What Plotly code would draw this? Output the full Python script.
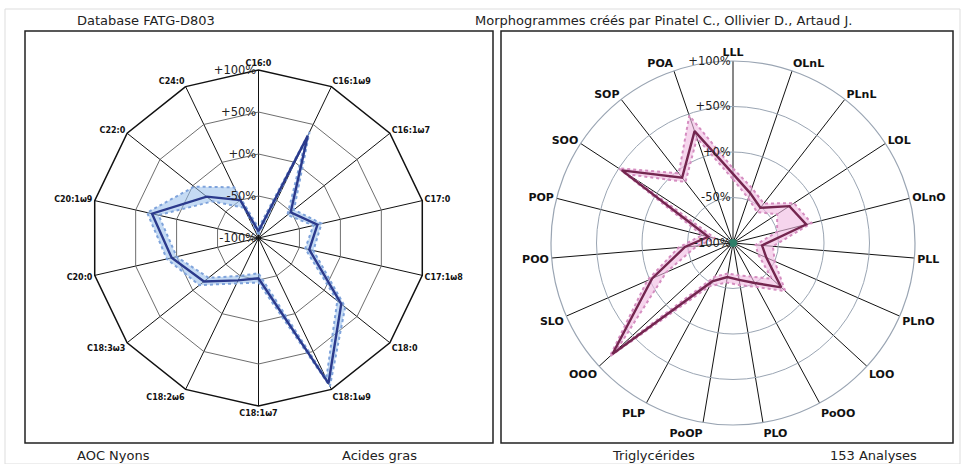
import plotly.graph_objects as go

W, H = 962, 464

# ---------------- data ----------------
fa_cats = ["C16:0", "C16:1ω9", "C16:1ω7", "C17:0", "C17:1ω8", "C18:0", "C18:1ω9",
           "C18:1ω7", "C18:2ω6", "C18:3ω3", "C20:0", "C20:1ω9", "C22:0", "C24:0"]
fa_mean = [-92, 35, -51, -28, -38, 26, 92, -52, -44, -17, 6, 30, -21, -50]
fa_upper = [-88, 40, -46, -23, -33, 32, 96, -47, -40, -10, 12, 36, -2, -33]
fa_lower = [-96, 30, -56, -33, -43, 20, 86, -58, -50, -24, 0, 22, -30, -60]

tg_cats = ["LLL", "OLnL", "PLnL", "LOL", "OLnO", "PLL", "PLnO", "LOO", "PoOO", "PLO",
           "PoOP", "PLP", "OOO", "SLO", "POO", "POP", "SOO", "SOP", "POA"]
tg_mean = [-24, -42, -51, -26, -17, -68, -60, -28, -50, -59, -62, -52, 80, -3, -47, -72, 46, -9, 30]
tg_upper = [-18, -36, -45, -20, -11, -56, -50, -22, -45, -53, -56, -46, 84, 3, -40, -65, 50, -3, 48]
tg_lower = [-30, -48, -57, -42, -50, -75, -70, -42, -58, -64, -66, -58, 74, -20, -60, -80, 38, -15, 22]

r_ticks = [-100, -50, 0, 50, 100]
r_ticktext = ["-100%", "-50%", "+0%", "+50%", "+100%"]

# ---------------- helpers ----------------
def closed(a):
    return list(a) + [a[0]]

def add_chart(fig, cats, mean, upper, lower, polar, line_col, dot_col, fill_col):
    th = closed(cats)
    fig.add_trace(go.Scatterpolar(
        r=closed(upper) + closed(lower)[::-1], theta=th + th[::-1],
        mode="lines", fill="toself", fillcolor=fill_col,
        line=dict(width=0, color=fill_col), subplot=polar, hoverinfo="skip"))
    for b in (upper, lower):
        fig.add_trace(go.Scatterpolar(
            r=closed(b), theta=th, mode="lines",
            line=dict(color=dot_col, width=2, dash="dot"),
            subplot=polar, hoverinfo="skip"))
    fig.add_trace(go.Scatterpolar(
        r=closed(mean), theta=th, mode="lines",
        line=dict(color=line_col, width=2.4),
        subplot=polar, hoverinfo="skip"))
    fig.add_trace(go.Scatterpolar(
        r=[-100], theta=[cats[0]], mode="markers",
        marker=dict(color="#2f7f68", size=8),
        subplot=polar, hoverinfo="skip"))

fig = go.Figure()
add_chart(fig, fa_cats, fa_mean, fa_upper, fa_lower, "polar",
          "#2b3a8c", "#7fa3db", "rgba(150,190,235,0.55)")
add_chart(fig, tg_cats, tg_mean, tg_upper, tg_lower, "polar2",
          "#74264f", "#d58dc0", "rgba(240,185,225,0.6)")

def px_dom(cx, cy, r):
    return dict(x=[(cx - r) / W, (cx + r) / W],
                y=[(H - cy - r) / H, (H - cy + r) / H])

radial_common = dict(range=[-100, 100], tickvals=r_ticks, ticktext=r_ticktext,
                     angle=90, tickangle=90, side="counterclockwise",
                     showline=False, ticks="",
                     tickfont=dict(family="DejaVu Sans", size=11.5, color="#222"))

fig.update_layout(
    width=W, height=H, margin=dict(l=0, r=0, t=0, b=0),
    paper_bgcolor="white", showlegend=False,
    polar=dict(
        domain=px_dom(258.5, 238, 168),
        bgcolor="white", gridshape="linear",
        radialaxis=dict(**radial_common, gridcolor="#6e6e6e", gridwidth=1),
        angularaxis=dict(categoryarray=fa_cats, rotation=90, direction="clockwise",
                         gridcolor="#111", gridwidth=1.3, linecolor="#111", linewidth=1.5,
                         ticks="",
                         tickfont=dict(family="DejaVu Sans", size=8, color="#111", weight="bold")),
    ),
    polar2=dict(
        domain=px_dom(733, 243, 182),
        bgcolor="white", gridshape="circular",
        radialaxis=dict(**radial_common, gridcolor="#9aa5b3", gridwidth=1),
        angularaxis=dict(categoryarray=tg_cats, rotation=90, direction="clockwise",
                         gridcolor="#111", gridwidth=1.3, linecolor="#9aa5b3", linewidth=1.2,
                         ticks="",
                         tickfont=dict(family="DejaVu Sans", size=11, color="#111", weight="bold")),
    ),
)

# frames
shapes = [
    dict(type="rect", xref="paper", yref="paper", x0=5 / W, x1=960 / W, y0=0, y1=(H - 9) / H,
         line=dict(color="#dddddd", width=1)),
    dict(type="rect", xref="paper", yref="paper", x0=25 / W, x1=493 / W,
         y0=(H - 443) / H, y1=(H - 31) / H, line=dict(color="#222", width=1.5)),
    dict(type="rect", xref="paper", yref="paper", x0=501 / W, x1=953 / W,
         y0=(H - 443) / H, y1=(H - 31) / H, line=dict(color="#222", width=1.5)),
]
fig.update_layout(shapes=shapes)

def txt(x, y, s):
    return dict(x=x / W, y=(H - y) / H, xref="paper", yref="paper", text=s,
                showarrow=False, xanchor="left", yanchor="middle",
                font=dict(family="DejaVu Sans", size=13, color="#222"))

fig.update_layout(annotations=[
    txt(75, 20, "Database FATG-D803"),
    txt(473, 20, "Morphogrammes créés par Pinatel C., Ollivier D., Artaud J."),
    txt(75, 455, "AOC Nyons"),
    txt(340, 455, "Acides gras"),
    txt(610, 455, "Triglycérides"),
    txt(828, 455, "153 Analyses"),
])

fig.write_html("out.html", config={"displayModeBar": False},
               post_script="document.body.style.margin='0';document.body.style.overflow='hidden';")
